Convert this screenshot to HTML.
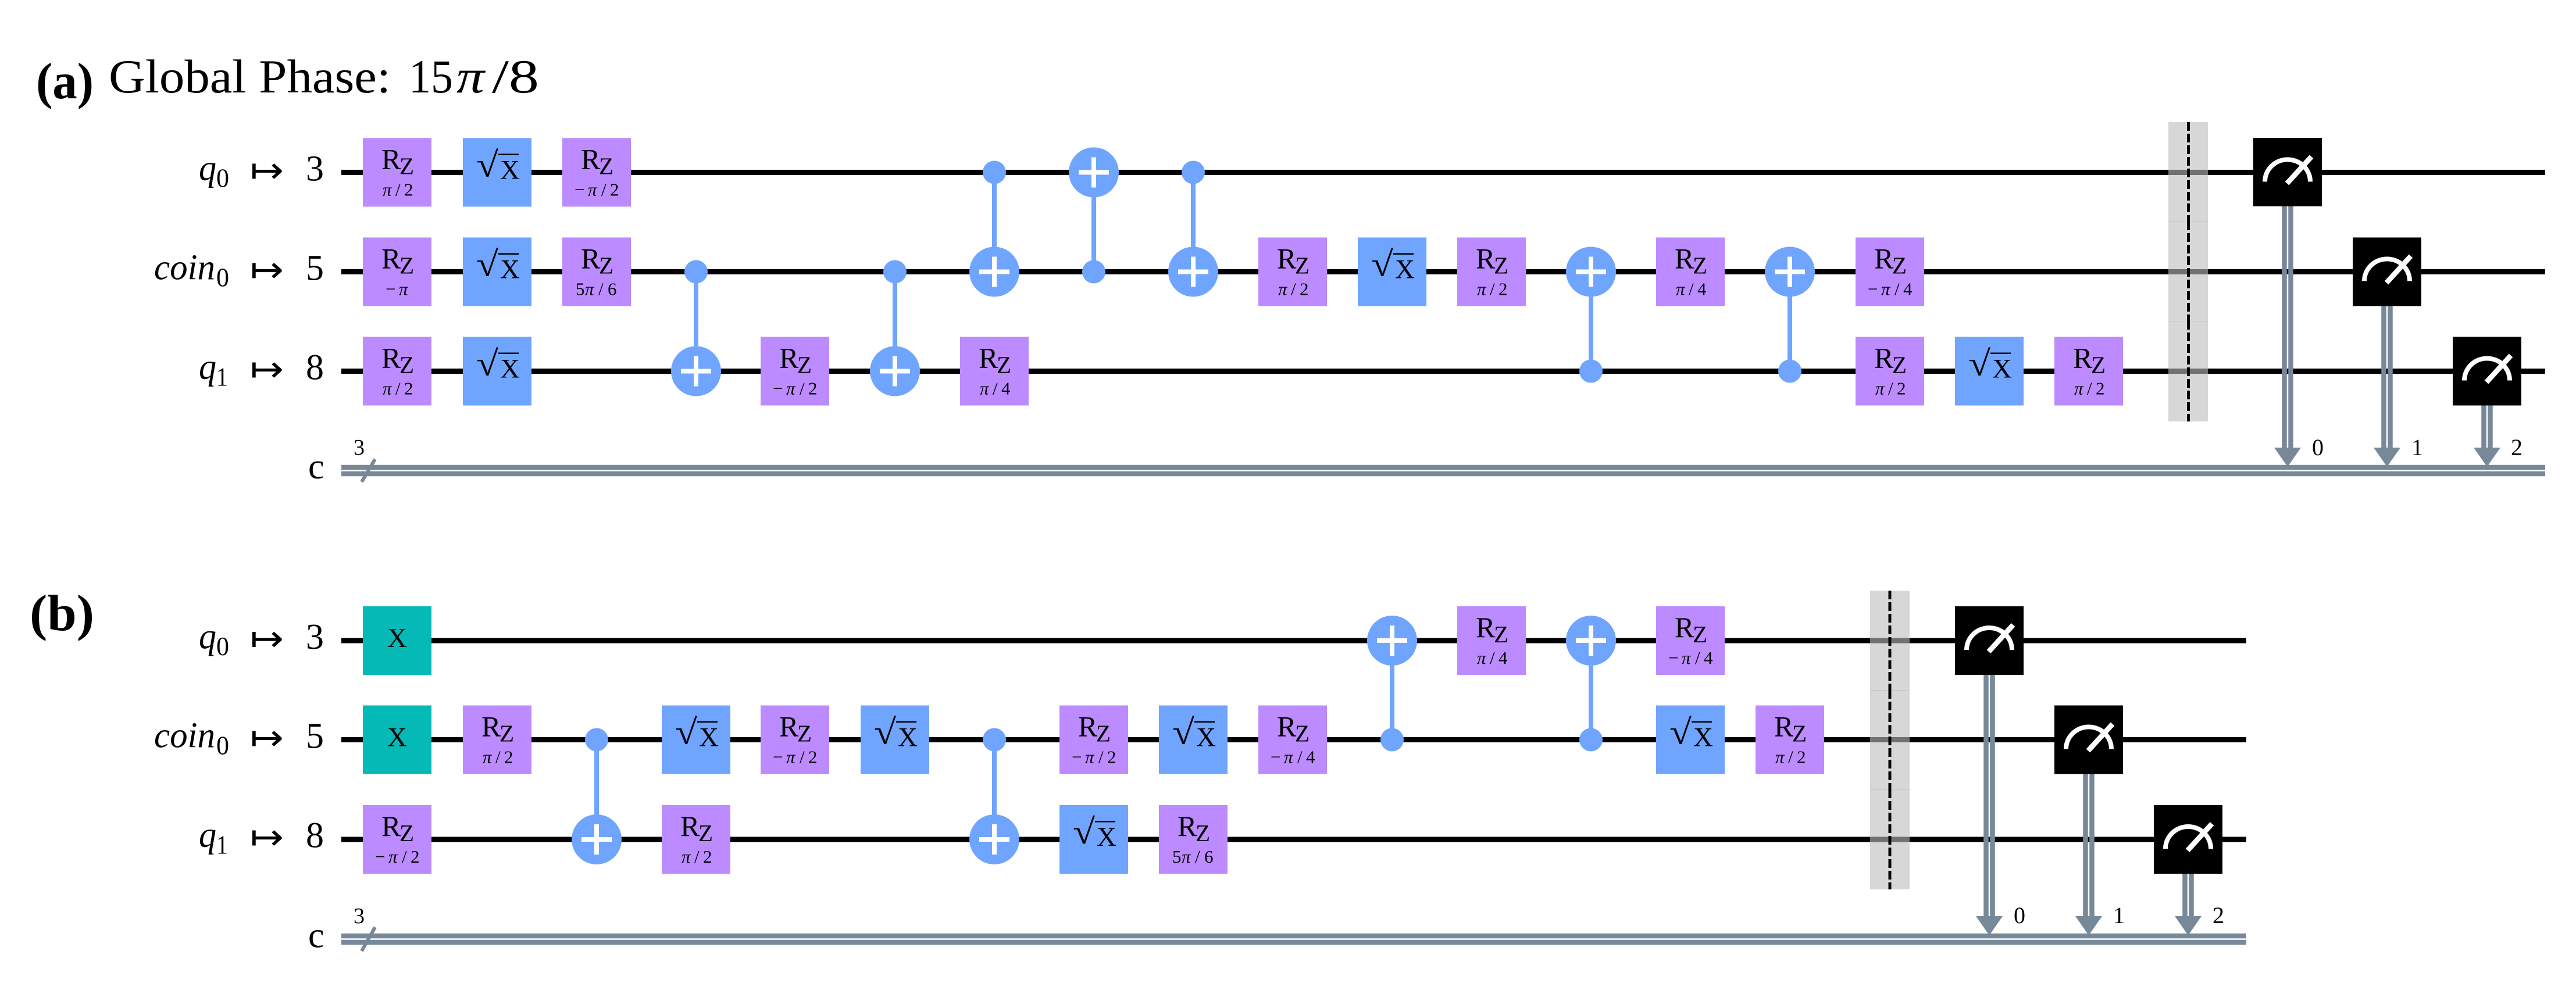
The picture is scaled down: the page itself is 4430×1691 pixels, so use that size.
<!DOCTYPE html>
<html lang="en"><head><meta charset="utf-8"><title>Quantum circuits</title>
<style>
html,body{margin:0;padding:0;background:#fff;width:4430px;height:1691px;overflow:hidden}
svg{display:block}
text{font-family:"Liberation Serif",serif;fill:#000}
.w{stroke:#000;stroke-width:9;fill:none}
.cl{stroke:#778899;stroke-width:8.5;fill:none}
.rz{fill:#BB8BFF}.sx{fill:#6FA4FF}.xg{fill:#05BAB6}.m{fill:#000}
.R{font-size:50px}.Z{font-size:41px}
.p{font-size:31px}
.i{font-style:italic}
.X{font-size:47px}
.rt{font-size:61px}
.vb{fill:#000}
.cn{stroke:#6FA4FF;stroke-width:8;fill:none}
.ct{fill:#6FA4FF}
.pl{stroke:#fff;stroke-width:8;fill:none}
.ba{fill:#BDBDBD;fill-opacity:.6}
.bl{stroke:#000;stroke-width:5;stroke-dasharray:15 5;fill:none}
.ma{stroke:#fff;stroke-width:8;fill:none}
.mn{stroke:#fff;stroke-width:9;fill:none}
.ah{fill:#778899}
.d{font-size:40px;text-anchor:middle}
.lb{font-size:62px}
.sb{font-size:46px}
.ar{font-family:"DejaVu Sans",sans-serif;font-size:62px}
.n3{font-size:38px}
.sl{stroke:#778899;stroke-width:6;fill:none}
</style></head><body>
<svg xmlns="http://www.w3.org/2000/svg" width="4430" height="1691" viewBox="0 0 4430 1691">
<rect width="4430" height="1691" fill="#fff"/>

<!-- Titles -->
<text x="62" y="169" font-size="88" font-weight="bold" textLength="99" lengthAdjust="spacingAndGlyphs">(a)</text>
<text x="187" y="159" font-size="82" textLength="485" lengthAdjust="spacingAndGlyphs">Global Phase:</text>
<text x="703" y="159" font-size="82" textLength="76" lengthAdjust="spacingAndGlyphs">15</text>
<text class="i" x="785" y="159" font-size="82" textLength="48" lengthAdjust="spacingAndGlyphs">π</text>
<text x="846" y="159" font-size="82" textLength="81" lengthAdjust="spacingAndGlyphs">/8</text>
<text x="51" y="1084" font-size="88" font-weight="bold" textLength="111" lengthAdjust="spacingAndGlyphs">(b)</text>

<!-- Panel (a) labels -->
<text class="lb i" x="342" y="309.5" textLength="30" lengthAdjust="spacingAndGlyphs">q</text><text class="sb" x="372" y="321.5" textLength="22" lengthAdjust="spacingAndGlyphs">0</text><text class="ar" x="430" y="314" textLength="58" lengthAdjust="spacingAndGlyphs">↦</text><text class="lb" x="526" y="310.5">3</text>
<text class="lb i" x="265" y="480.5" textLength="105" lengthAdjust="spacingAndGlyphs">coin</text><text class="sb" x="372" y="492.5" textLength="22" lengthAdjust="spacingAndGlyphs">0</text><text class="ar" x="430" y="485" textLength="58" lengthAdjust="spacingAndGlyphs">↦</text><text class="lb" x="526" y="481.5">5</text>
<text class="lb i" x="342" y="651.5" textLength="30" lengthAdjust="spacingAndGlyphs">q</text><text class="sb" x="372" y="663.5" textLength="20" lengthAdjust="spacingAndGlyphs">1</text><text class="ar" x="430" y="656" textLength="58" lengthAdjust="spacingAndGlyphs">↦</text><text class="lb" x="526" y="652.5">8</text>
<text class="lb" x="530" y="823">c</text><text class="n3" x="608" y="782">3</text>

<!-- Panel (b) labels -->
<text class="lb i" x="342" y="1115" textLength="30" lengthAdjust="spacingAndGlyphs">q</text><text class="sb" x="372" y="1127" textLength="22" lengthAdjust="spacingAndGlyphs">0</text><text class="ar" x="430" y="1119.5" textLength="58" lengthAdjust="spacingAndGlyphs">↦</text><text class="lb" x="526" y="1116">3</text>
<text class="lb i" x="265" y="1285.5" textLength="105" lengthAdjust="spacingAndGlyphs">coin</text><text class="sb" x="372" y="1297.5" textLength="22" lengthAdjust="spacingAndGlyphs">0</text><text class="ar" x="430" y="1290" textLength="58" lengthAdjust="spacingAndGlyphs">↦</text><text class="lb" x="526" y="1286.5">5</text>
<text class="lb i" x="342" y="1456.5" textLength="30" lengthAdjust="spacingAndGlyphs">q</text><text class="sb" x="372" y="1468.5" textLength="20" lengthAdjust="spacingAndGlyphs">1</text><text class="ar" x="430" y="1461" textLength="58" lengthAdjust="spacingAndGlyphs">↦</text><text class="lb" x="526" y="1457.5">8</text>
<text class="lb" x="530" y="1629.5">c</text><text class="n3" x="608" y="1588">3</text>

<!-- Wires (a) -->
<path class="w" d="M587 296.5H4377M587 467.5H4377M587 638.5H4377"/>
<!-- Wires (b) -->
<path class="w" d="M587 1102H3863M587 1272.5H3863M587 1444H3863"/>

<!-- Panel (a) gates -->
<g transform="translate(683,296.5)"><rect class="rz" x="-59" y="-59" width="118" height="118"/><text class="R" x="-27" y="-6">R</text><text class="Z" x="4" y="3">Z</text><text class="p" y="40"><tspan class="i" x="-25">π</tspan><tspan x="-3 12">/2</tspan></text></g>
<g transform="translate(855,296.5)"><rect class="sx" x="-59" y="-59" width="118" height="118"/><text class="rt" x="-36" y="7" textLength="38" lengthAdjust="spacingAndGlyphs">√</text><rect class="vb" x="2" y="-32" width="35" height="2.5"/><text class="X" x="5" y="11">X</text></g>
<g transform="translate(1026,296.5)"><rect class="rz" x="-59" y="-59" width="118" height="118"/><text class="R" x="-27" y="-6">R</text><text class="Z" x="4" y="3">Z</text><text class="p" y="40"><tspan x="-38">−</tspan><tspan class="i" x="-15">π</tspan><tspan x="8 23">/2</tspan></text></g>

<g transform="translate(683,467.5)"><rect class="rz" x="-59" y="-59" width="118" height="118"/><text class="R" x="-27" y="-6">R</text><text class="Z" x="4" y="3">Z</text><text class="p" y="40"><tspan x="-20">−</tspan><tspan class="i" x="3">π</tspan></text></g>
<g transform="translate(855,467.5)"><rect class="sx" x="-59" y="-59" width="118" height="118"/><text class="rt" x="-36" y="7" textLength="38" lengthAdjust="spacingAndGlyphs">√</text><rect class="vb" x="2" y="-32" width="35" height="2.5"/><text class="X" x="5" y="11">X</text></g>
<g transform="translate(1026,467.5)"><rect class="rz" x="-59" y="-59" width="118" height="118"/><text class="R" x="-27" y="-6">R</text><text class="Z" x="4" y="3">Z</text><text class="p" y="40"><tspan x="-36">5</tspan><tspan class="i" x="-20">π</tspan><tspan x="3 19">/6</tspan></text></g>

<g transform="translate(683,638.5)"><rect class="rz" x="-59" y="-59" width="118" height="118"/><text class="R" x="-27" y="-6">R</text><text class="Z" x="4" y="3">Z</text><text class="p" y="40"><tspan class="i" x="-25">π</tspan><tspan x="-3 12">/2</tspan></text></g>
<g transform="translate(855,638.5)"><rect class="sx" x="-59" y="-59" width="118" height="118"/><text class="rt" x="-36" y="7" textLength="38" lengthAdjust="spacingAndGlyphs">√</text><rect class="vb" x="2" y="-32" width="35" height="2.5"/><text class="X" x="5" y="11">X</text></g>

<path class="cn" d="M1197 467.5V638.5"/><circle class="ct" cx="1197" cy="467.5" r="20"/><circle class="ct" cx="1197" cy="638.5" r="43"/><path class="pl" d="M1171 638.5H1223M1197 612.5V664.5"/>
<g transform="translate(1367,638.5)"><rect class="rz" x="-59" y="-59" width="118" height="118"/><text class="R" x="-27" y="-6">R</text><text class="Z" x="4" y="3">Z</text><text class="p" y="40"><tspan x="-38">−</tspan><tspan class="i" x="-15">π</tspan><tspan x="8 23">/2</tspan></text></g>
<path class="cn" d="M1539 467.5V638.5"/><circle class="ct" cx="1539" cy="467.5" r="20"/><circle class="ct" cx="1539" cy="638.5" r="43"/><path class="pl" d="M1513 638.5H1565M1539 612.5V664.5"/>
<g transform="translate(1710,638.5)"><rect class="rz" x="-59" y="-59" width="118" height="118"/><text class="R" x="-27" y="-6">R</text><text class="Z" x="4" y="3">Z</text><text class="p" y="40"><tspan class="i" x="-25">π</tspan><tspan x="-3 12">/4</tspan></text></g>
<path class="cn" d="M1710 296.5V467.5"/><circle class="ct" cx="1710" cy="296.5" r="20"/><circle class="ct" cx="1710" cy="467.5" r="43"/><path class="pl" d="M1684 467.5H1736M1710 441.5V493.5"/>
<path class="cn" d="M1881 296.5V467.5"/><circle class="ct" cx="1881" cy="467.5" r="20"/><circle class="ct" cx="1881" cy="296.5" r="43"/><path class="pl" d="M1855 296.5H1907M1881 270.5V322.5"/>
<path class="cn" d="M2052 296.5V467.5"/><circle class="ct" cx="2052" cy="296.5" r="20"/><circle class="ct" cx="2052" cy="467.5" r="43"/><path class="pl" d="M2026 467.5H2078M2052 441.5V493.5"/>
<g transform="translate(2223,467.5)"><rect class="rz" x="-59" y="-59" width="118" height="118"/><text class="R" x="-27" y="-6">R</text><text class="Z" x="4" y="3">Z</text><text class="p" y="40"><tspan class="i" x="-25">π</tspan><tspan x="-3 12">/2</tspan></text></g>
<g transform="translate(2394,467.5)"><rect class="sx" x="-59" y="-59" width="118" height="118"/><text class="rt" x="-36" y="7" textLength="38" lengthAdjust="spacingAndGlyphs">√</text><rect class="vb" x="2" y="-32" width="35" height="2.5"/><text class="X" x="5" y="11">X</text></g>
<g transform="translate(2565,467.5)"><rect class="rz" x="-59" y="-59" width="118" height="118"/><text class="R" x="-27" y="-6">R</text><text class="Z" x="4" y="3">Z</text><text class="p" y="40"><tspan class="i" x="-25">π</tspan><tspan x="-3 12">/2</tspan></text></g>
<path class="cn" d="M2736 467.5V638.5"/><circle class="ct" cx="2736" cy="638.5" r="20"/><circle class="ct" cx="2736" cy="467.5" r="43"/><path class="pl" d="M2710 467.5H2762M2736 441.5V493.5"/>
<g transform="translate(2907,467.5)"><rect class="rz" x="-59" y="-59" width="118" height="118"/><text class="R" x="-27" y="-6">R</text><text class="Z" x="4" y="3">Z</text><text class="p" y="40"><tspan class="i" x="-25">π</tspan><tspan x="-3 12">/4</tspan></text></g>
<path class="cn" d="M3078 467.5V638.5"/><circle class="ct" cx="3078" cy="638.5" r="20"/><circle class="ct" cx="3078" cy="467.5" r="43"/><path class="pl" d="M3052 467.5H3104M3078 441.5V493.5"/>
<g transform="translate(3250,467.5)"><rect class="rz" x="-59" y="-59" width="118" height="118"/><text class="R" x="-27" y="-6">R</text><text class="Z" x="4" y="3">Z</text><text class="p" y="40"><tspan x="-38">−</tspan><tspan class="i" x="-15">π</tspan><tspan x="8 23">/4</tspan></text></g>
<g transform="translate(3250,638.5)"><rect class="rz" x="-59" y="-59" width="118" height="118"/><text class="R" x="-27" y="-6">R</text><text class="Z" x="4" y="3">Z</text><text class="p" y="40"><tspan class="i" x="-25">π</tspan><tspan x="-3 12">/2</tspan></text></g>
<g transform="translate(3421,638.5)"><rect class="sx" x="-59" y="-59" width="118" height="118"/><text class="rt" x="-36" y="7" textLength="38" lengthAdjust="spacingAndGlyphs">√</text><rect class="vb" x="2" y="-32" width="35" height="2.5"/><text class="X" x="5" y="11">X</text></g>
<g transform="translate(3592,638.5)"><rect class="rz" x="-59" y="-59" width="118" height="118"/><text class="R" x="-27" y="-6">R</text><text class="Z" x="4" y="3">Z</text><text class="p" y="40"><tspan class="i" x="-25">π</tspan><tspan x="-3 12">/2</tspan></text></g>

<!-- Barrier (a) -->
<rect class="ba" x="3729" y="210" width="68" height="172"/><rect class="ba" x="3729" y="381" width="68" height="172"/><rect class="ba" x="3729" y="552" width="68" height="173"/>
<path class="bl" d="M3763.5 210V381"/><path class="bl" d="M3763.5 381V552"/><path class="bl" d="M3763.5 552V725"/>

<!-- Classical register (a) -->
<path class="cl" d="M587 804H4377M587 815H4377"/>
<path class="sl" d="M622 829L645 790"/>

<!-- Measures (a) -->
<path class="cl" d="M3928.5 355V775M3939.5 355V775"/><path class="ah" d="M3911 770H3957L3934 803Z"/><text class="d" x="3986" y="783">0</text>
<rect class="m" x="3875" y="237" width="118" height="118"/><g transform="translate(3934,296.5)"><path class="ma" d="M-39 16A39 38 0 0 1 39 16"/><path class="mn" d="M-1 19L41 -27"/></g>
<path class="cl" d="M4099.5 526V775M4110.5 526V775"/><path class="ah" d="M4082 770H4128L4105 803Z"/><text class="d" x="4157" y="783">1</text>
<rect class="m" x="4046" y="408.5" width="118" height="118"/><g transform="translate(4105,467.5)"><path class="ma" d="M-39 16A39 38 0 0 1 39 16"/><path class="mn" d="M-1 19L41 -27"/></g>
<path class="cl" d="M4271.5 697V775M4282.5 697V775"/><path class="ah" d="M4254 770H4300L4277 803Z"/><text class="d" x="4328" y="783">2</text>
<rect class="m" x="4218" y="579.5" width="118" height="118"/><g transform="translate(4277,638.5)"><path class="ma" d="M-39 16A39 38 0 0 1 39 16"/><path class="mn" d="M-1 19L41 -27"/></g>

<!-- Panel (b) gates -->
<g transform="translate(683,1102)"><rect class="xg" x="-59" y="-59" width="118" height="118"/><text class="X" x="0" y="11" text-anchor="middle">X</text></g>
<g transform="translate(683,1272.5)"><rect class="xg" x="-59" y="-59" width="118" height="118"/><text class="X" x="0" y="11" text-anchor="middle">X</text></g>
<g transform="translate(683,1444)"><rect class="rz" x="-59" y="-59" width="118" height="118"/><text class="R" x="-27" y="-6">R</text><text class="Z" x="4" y="3">Z</text><text class="p" y="40"><tspan x="-38">−</tspan><tspan class="i" x="-15">π</tspan><tspan x="8 23">/2</tspan></text></g>
<g transform="translate(855,1272.5)"><rect class="rz" x="-59" y="-59" width="118" height="118"/><text class="R" x="-27" y="-6">R</text><text class="Z" x="4" y="3">Z</text><text class="p" y="40"><tspan class="i" x="-25">π</tspan><tspan x="-3 12">/2</tspan></text></g>
<path class="cn" d="M1026 1272.5V1444"/><circle class="ct" cx="1026" cy="1272.5" r="20"/><circle class="ct" cx="1026" cy="1444" r="43"/><path class="pl" d="M1000 1444H1052M1026 1418V1470"/>
<g transform="translate(1197,1272.5)"><rect class="sx" x="-59" y="-59" width="118" height="118"/><text class="rt" x="-36" y="7" textLength="38" lengthAdjust="spacingAndGlyphs">√</text><rect class="vb" x="2" y="-32" width="35" height="2.5"/><text class="X" x="5" y="11">X</text></g>
<g transform="translate(1197,1444)"><rect class="rz" x="-59" y="-59" width="118" height="118"/><text class="R" x="-27" y="-6">R</text><text class="Z" x="4" y="3">Z</text><text class="p" y="40"><tspan class="i" x="-25">π</tspan><tspan x="-3 12">/2</tspan></text></g>
<g transform="translate(1367,1272.5)"><rect class="rz" x="-59" y="-59" width="118" height="118"/><text class="R" x="-27" y="-6">R</text><text class="Z" x="4" y="3">Z</text><text class="p" y="40"><tspan x="-38">−</tspan><tspan class="i" x="-15">π</tspan><tspan x="8 23">/2</tspan></text></g>
<g transform="translate(1539,1272.5)"><rect class="sx" x="-59" y="-59" width="118" height="118"/><text class="rt" x="-36" y="7" textLength="38" lengthAdjust="spacingAndGlyphs">√</text><rect class="vb" x="2" y="-32" width="35" height="2.5"/><text class="X" x="5" y="11">X</text></g>
<path class="cn" d="M1710 1272.5V1444"/><circle class="ct" cx="1710" cy="1272.5" r="20"/><circle class="ct" cx="1710" cy="1444" r="43"/><path class="pl" d="M1684 1444H1736M1710 1418V1470"/>
<g transform="translate(1881,1272.5)"><rect class="rz" x="-59" y="-59" width="118" height="118"/><text class="R" x="-27" y="-6">R</text><text class="Z" x="4" y="3">Z</text><text class="p" y="40"><tspan x="-38">−</tspan><tspan class="i" x="-15">π</tspan><tspan x="8 23">/2</tspan></text></g>
<g transform="translate(1881,1444)"><rect class="sx" x="-59" y="-59" width="118" height="118"/><text class="rt" x="-36" y="7" textLength="38" lengthAdjust="spacingAndGlyphs">√</text><rect class="vb" x="2" y="-32" width="35" height="2.5"/><text class="X" x="5" y="11">X</text></g>
<g transform="translate(2052,1272.5)"><rect class="sx" x="-59" y="-59" width="118" height="118"/><text class="rt" x="-36" y="7" textLength="38" lengthAdjust="spacingAndGlyphs">√</text><rect class="vb" x="2" y="-32" width="35" height="2.5"/><text class="X" x="5" y="11">X</text></g>
<g transform="translate(2052,1444)"><rect class="rz" x="-59" y="-59" width="118" height="118"/><text class="R" x="-27" y="-6">R</text><text class="Z" x="4" y="3">Z</text><text class="p" y="40"><tspan x="-36">5</tspan><tspan class="i" x="-20">π</tspan><tspan x="3 19">/6</tspan></text></g>
<g transform="translate(2223,1272.5)"><rect class="rz" x="-59" y="-59" width="118" height="118"/><text class="R" x="-27" y="-6">R</text><text class="Z" x="4" y="3">Z</text><text class="p" y="40"><tspan x="-38">−</tspan><tspan class="i" x="-15">π</tspan><tspan x="8 23">/4</tspan></text></g>
<path class="cn" d="M2394 1102V1272.5"/><circle class="ct" cx="2394" cy="1272.5" r="20"/><circle class="ct" cx="2394" cy="1102" r="43"/><path class="pl" d="M2368 1102H2420M2394 1076V1128"/>
<g transform="translate(2565,1102)"><rect class="rz" x="-59" y="-59" width="118" height="118"/><text class="R" x="-27" y="-6">R</text><text class="Z" x="4" y="3">Z</text><text class="p" y="40"><tspan class="i" x="-25">π</tspan><tspan x="-3 12">/4</tspan></text></g>
<path class="cn" d="M2736 1102V1272.5"/><circle class="ct" cx="2736" cy="1272.5" r="20"/><circle class="ct" cx="2736" cy="1102" r="43"/><path class="pl" d="M2710 1102H2762M2736 1076V1128"/>
<g transform="translate(2907,1102)"><rect class="rz" x="-59" y="-59" width="118" height="118"/><text class="R" x="-27" y="-6">R</text><text class="Z" x="4" y="3">Z</text><text class="p" y="40"><tspan x="-38">−</tspan><tspan class="i" x="-15">π</tspan><tspan x="8 23">/4</tspan></text></g>
<g transform="translate(2907,1272.5)"><rect class="sx" x="-59" y="-59" width="118" height="118"/><text class="rt" x="-36" y="7" textLength="38" lengthAdjust="spacingAndGlyphs">√</text><rect class="vb" x="2" y="-32" width="35" height="2.5"/><text class="X" x="5" y="11">X</text></g>
<g transform="translate(3078,1272.5)"><rect class="rz" x="-59" y="-59" width="118" height="118"/><text class="R" x="-27" y="-6">R</text><text class="Z" x="4" y="3">Z</text><text class="p" y="40"><tspan class="i" x="-25">π</tspan><tspan x="-3 12">/2</tspan></text></g>

<!-- Barrier (b) -->
<rect class="ba" x="3216" y="1016" width="68" height="172"/><rect class="ba" x="3216" y="1187" width="68" height="172"/><rect class="ba" x="3216" y="1358" width="68" height="172"/>
<path class="bl" d="M3250 1016V1187"/><path class="bl" d="M3250 1187V1358"/><path class="bl" d="M3250 1358V1530"/>

<!-- Classical register (b) -->
<path class="cl" d="M587 1610H3863M587 1621H3863"/>
<path class="sl" d="M622 1636L645 1595"/>

<!-- Measures (b) -->
<path class="cl" d="M3415.5 1161V1581M3426.5 1161V1581"/><path class="ah" d="M3398 1576H3444L3421 1609Z"/><text class="d" x="3473" y="1588">0</text>
<rect class="m" x="3362" y="1043" width="118" height="118"/><g transform="translate(3421,1102)"><path class="ma" d="M-39 16A39 38 0 0 1 39 16"/><path class="mn" d="M-1 19L41 -27"/></g>
<path class="cl" d="M3586.5 1331V1581M3597.5 1331V1581"/><path class="ah" d="M3569 1576H3615L3592 1609Z"/><text class="d" x="3644" y="1588">1</text>
<rect class="m" x="3533" y="1213.5" width="118" height="118"/><g transform="translate(3592,1272.5)"><path class="ma" d="M-39 16A39 38 0 0 1 39 16"/><path class="mn" d="M-1 19L41 -27"/></g>
<path class="cl" d="M3757.5 1503V1581M3768.5 1503V1581"/><path class="ah" d="M3740 1576H3786L3763 1609Z"/><text class="d" x="3815" y="1588">2</text>
<rect class="m" x="3704" y="1385" width="118" height="118"/><g transform="translate(3763,1444)"><path class="ma" d="M-39 16A39 38 0 0 1 39 16"/><path class="mn" d="M-1 19L41 -27"/></g>
</svg>
</body></html>
